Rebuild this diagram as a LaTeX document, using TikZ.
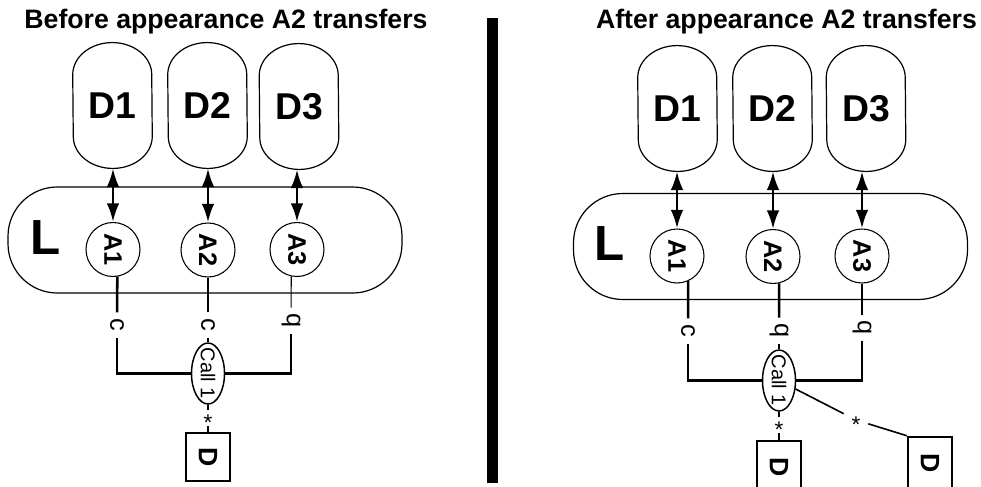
\documentclass[tikz,border=0pt]{standalone}
\usepackage{fontspec}
\setmainfont{Liberation Sans}
\usetikzlibrary{shapes.geometric,arrows.meta}
\tikzstyle{heading} = [font=\bfseries\fontsize{20}{20}\selectfont]
\tikzstyle{device} = [rectangle, minimum width=59.25pt, minimum height=94pt, font=\bfseries\fontsize{28}{28}\selectfont]
\tikzstyle{pillline} = [draw=black, line width=0.9pt]
\tikzstyle{linebox} = [rectangle, rounded corners=37pt, minimum width=295.5pt, minimum height=79.5pt, draw=black, line width=0.9pt]
\tikzstyle{bigletter} = [font=\bfseries\fontsize{37}{37}\selectfont]
\tikzstyle{appear} = [circle, minimum size=40.5pt, inner sep=0pt, draw=black, line width=0.8pt, font=\bfseries\fontsize{19}{19}\selectfont]
\tikzstyle{tag} = [rotate=-90, inner xsep=4.5pt, inner ysep=1pt, font=\fontsize{19}{19}\selectfont]
\tikzstyle{callnode} = [ellipse, minimum width=24.75pt, minimum height=45.75pt, inner sep=0pt, draw=black, line width=1.1pt, font=\fontsize{15}{15}\selectfont]
\tikzstyle{asterisk} = [inner sep=0pt, minimum width=12pt, minimum height=12pt, font=\fontsize{17}{17}\selectfont]
\tikzstyle{dbox} = [rectangle, minimum width=33pt, minimum height=36pt, inner sep=0pt, draw=black, line width=1.6pt, font=\bfseries\fontsize{20}{20}\selectfont]
\tikzstyle{biarrow} = [line width=2pt, {Latex[length=14pt,width=9.5pt]}-{Latex[length=14pt,width=9.5pt]}]
\tikzstyle{link} = [line width=1.9pt]
\tikzstyle{thinlink} = [line width=0.8pt]
\newcommand{\sidetext}[1]{\rotatebox{-90}{#1}}
\newcommand{\startext}{\smash{\raisebox{-9pt}{*}}}
% outline of a data node: straight sides, oval ends
\newcommand{\pill}[1]{\draw[pillline] ([yshift=-24pt]#1.north west) arc[start angle=180, end angle=0, x radius=29.625pt, y radius=24pt] -- ([yshift=24pt]#1.south east) arc[start angle=0, end angle=-180, x radius=29.625pt, y radius=24pt] -- cycle;}

\begin{document}
\begin{tikzpicture}[x=0.75pt, y=-0.75pt]
      \useasboundingbox (0,0) rectangle (981,486);
      % before
      \node (ltitle)[heading] at (226,22) {Before appearance A2 transfers};
      \node (lD1)[device] at (112.5,105.5) {D1};
      \node (lD2)[device] at (207.5,105.5) {D2};
      \node (lD3)[device] at (299,106.5) {D3};
      \pill{lD1} \pill{lD2} \pill{lD3}
      \node (lL)[linebox] at (205,240) {};
      \node (lLt)[bigletter] at (45.5,237.5) {L};
      \node (lA1)[appear] at (113,249.5) {\sidetext{A1}};
      \node (lA2)[appear] at (208,250) {\sidetext{A2}};
      \node (lA3)[appear] at (297,249.5) {\sidetext{A3}};
      \node (lc1)[tag] at (117,325) {c};
      \node (lc2)[tag] at (208,325) {c};
      \node (lq3)[tag] at (291,321) {q};
      \node (lcall)[callnode] at (208,373.5) {\sidetext{\makebox[30pt]{Call 1}}};
      \node (lstar)[asterisk] at (208,418) {\startext};
      \node (lbox)[dbox] at (208,457) {\sidetext{D}};
      \draw [biarrow](lA1) -- (lA1 |- lD1.south);
      \draw [biarrow](lA2) -- (lA2 |- lD2.south);
      \draw [biarrow](lA3) -- (lA3 |- lD3.south);
      \draw [link](lA1.-81) -- (lc1);
      \draw [link](lc1) |- (lcall);
      \draw [link](lA2) -- (lc2);
      \draw [link](lc2) -- (lcall);
      \draw [thinlink](lA3.-102) -- (lq3);
      \draw [link](lq3) |- (lcall);
      \draw [link](lcall) -- (lstar);
      \draw [link](lstar) -- (lbox);
      % divider
      \fill (487,18) rectangle (498,483);
      % after
      \node (rtitle)[heading] at (786.5,22) {After appearance A2 transfers};
      \node (rD1)[device] at (677.5,108.5) {D1};
      \node (rD2)[device] at (772.5,108.5) {D2};
      \node (rD3)[device] at (866,108.5) {D3};
      \pill{rD1} \pill{rD2} \pill{rD3}
      \node (rL)[linebox] at (770.5,246.5) {};
      \node (rLt)[bigletter] at (610,244) {L};
      \node (rA1)[appear] at (677,256) {\sidetext{A1}};
      \node (rA2)[appear] at (773,256.5) {\sidetext{A2}};
      \node (rA3)[appear] at (862,256) {\sidetext{A3}};
      \node (rc1)[tag] at (688,331) {c};
      \node (rq2)[tag] at (779,331) {q};
      \node (rq3)[tag] at (862,328) {q};
      \node (rcall)[callnode] at (779,380.5) {\sidetext{\makebox[30pt]{Call 1}}};
      \node (rstar1)[asterisk] at (779,425) {\startext};
      \node (rstar2)[asterisk, minimum width=18pt] at (856,420) {\startext};
      \node (rbox1)[dbox, minimum height=40pt] at (779,467.5) {\sidetext{D}};
      \node (rbox2)[dbox, minimum height=40pt] at (930,463.5) {\sidetext{D}};
      \draw [biarrow](rA1) -- (rA1 |- rD1.south);
      \draw [biarrow](rA2) -- (rA2 |- rD2.south);
      \draw [biarrow](rA3) -- (rA3 |- rD3.south);
      \draw [link](rA1.-66) -- (rc1);
      \draw [link](rc1) |- (rcall);
      \draw [link](rA2.-77) -- (rq2);
      \draw [link](rq2) -- (rcall);
      \draw [thinlink](rA3) -- (rq3);
      \draw [link](rq3) |- (rcall);
      \draw [link](rcall) -- (rstar1);
      \draw [link](rstar1) -- (rbox1);
      \draw [thinlink, line width=1.2pt](rcall) -- (rstar2);
      \draw [thinlink, line width=1.2pt](rstar2) -- (rbox2.north west);
\end{tikzpicture}
\end{document}
